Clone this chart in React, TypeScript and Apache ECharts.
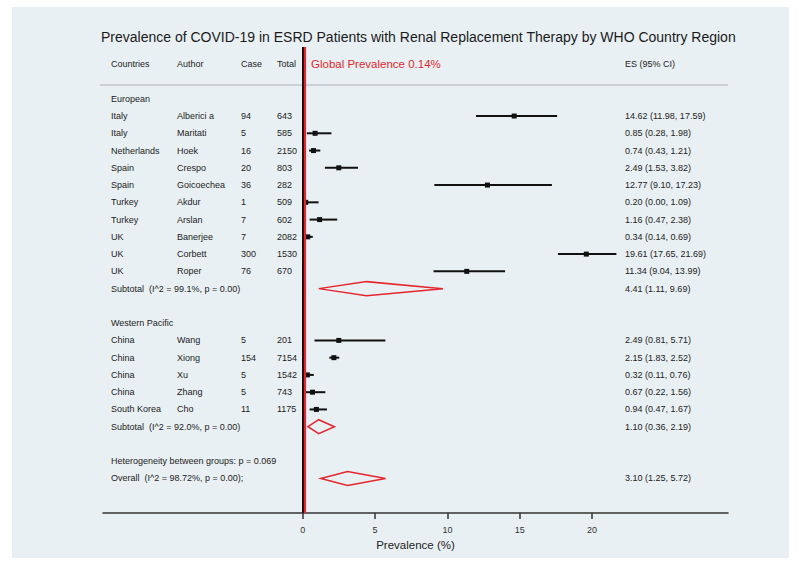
import React, { useEffect, useRef } from "react";
import * as echarts from "echarts";

// ---------- data ----------
const countries = ["Italy", "Italy", "Netherlands", "Spain", "Spain", "Turkey", "Turkey", "UK", "UK", "UK", "China", "China", "China", "China", "South Korea"];
const authors = ["Alberici a", "Maritati", "Hoek", "Crespo", "Goicoechea", "Akdur", "Arslan", "Banerjee", "Corbett", "Roper", "Wang", "Xiong", "Xu", "Zhang", "Cho"];
const cases = [94, 5, 16, 20, 36, 1, 7, 7, 300, 76, 5, 154, 5, 5, 11];
const totals = [643, 585, 2150, 803, 282, 509, 602, 2082, 1530, 670, 201, 7154, 1542, 743, 1175];
const es = [14.62, 0.85, 0.74, 2.49, 12.77, 0.2, 1.16, 0.34, 19.61, 11.34, 2.49, 2.15, 0.32, 0.67, 0.94];
const ciLow = [11.98, 0.28, 0.43, 1.53, 9.1, 0.0, 0.47, 0.14, 17.65, 9.04, 0.81, 1.83, 0.11, 0.22, 0.47];
const ciHigh = [17.59, 1.98, 1.21, 3.82, 17.23, 1.09, 2.38, 0.69, 21.69, 13.99, 5.71, 2.52, 0.76, 1.56, 1.67];
const studyRows = [1, 2, 3, 4, 5, 6, 7, 8, 9, 10, 14, 15, 16, 17, 18];

const groupLabels = ["European", "Western Pacific"];
const groupRows = [0, 13];

const summaryLabels = ["Subtotal  (I^2 = 99.1%, p = 0.00)", "Subtotal  (I^2 = 92.0%, p = 0.00)", "Overall  (I^2 = 98.72%, p = 0.00);"];
const summaryEs = [4.41, 1.1, 3.1];
const summaryLow = [1.11, 0.36, 1.25];
const summaryHigh = [9.69, 2.19, 5.72];
const summaryRows = [11, 19, 22];

const heterogeneityText = "Heterogeneity between groups: p = 0.069";
const heterogeneityRow = 21;

const headerLabels = ["Countries", "Author", "Case", "Total", "ES (95% CI)"];
const headerRow = -2;
const globalPrevalence = 0.14;
const globalLabel = "Global Prevalence 0.14%";

const xTicks = [0, 5, 10, 15, 20];
const titleText = "Prevalence of COVID-19 in ESRD Patients with Renal Replacement Therapy by WHO Country Region";
const xAxisName = "Prevalence (%)";

// ---------- layout ----------
const FONT = "'Liberation Sans', Arial, Helvetica, sans-serif";
const COL = { country: 111, author: 177, cases: 241, total: 277, es: 625, global: 311 };
const TEXT_COLOR = "#222";
const RED = "#e3262d";

const fmt = (v: number) => v.toFixed(2);

type TextItem = { row: number; x: number; text: string; color?: string; size?: number };

function buildTextItems(): TextItem[] {
  const items: TextItem[] = [];
  const headerX = [COL.country, COL.author, COL.cases, COL.total, COL.es];
  headerLabels.forEach((h, i) => items.push({ row: headerRow, x: headerX[i], text: h }));
  items.push({ row: headerRow, x: COL.global, text: globalLabel, color: RED, size: 11.5 });
  groupLabels.forEach((g, i) => items.push({ row: groupRows[i], x: COL.country, text: g }));
  studyRows.forEach((r, i) => {
    items.push({ row: r, x: COL.country, text: countries[i] });
    items.push({ row: r, x: COL.author, text: authors[i] });
    items.push({ row: r, x: COL.cases, text: String(cases[i]) });
    items.push({ row: r, x: COL.total, text: String(totals[i]) });
    items.push({ row: r, x: COL.es, text: `${fmt(es[i])} (${fmt(ciLow[i])}, ${fmt(ciHigh[i])})` });
  });
  summaryRows.forEach((r, i) => {
    items.push({ row: r, x: COL.country, text: summaryLabels[i] });
    items.push({ row: r, x: COL.es, text: `${fmt(summaryEs[i])} (${fmt(summaryLow[i])}, ${fmt(summaryHigh[i])})` });
  });
  items.push({ row: heterogeneityRow, x: COL.country, text: heterogeneityText });
  return items;
}

export default function App() {
  const ref = useRef<HTMLDivElement>(null);

  useEffect(() => {
    if (!ref.current) return;
    const chart = echarts.init(ref.current, undefined, { renderer: "svg" });
    const textItems = buildTextItems();

    const option: any = {
      animation: false,
      backgroundColor: "#ffffff",
      title: {
        text: titleText,
        left: 96,
        top: 25,
        textStyle: { fontFamily: FONT, fontSize: 14, fontWeight: "normal", color: "#1a1a1a" },
      },
      graphic: [
        {
          type: "rect",
          z: -10,
          shape: { x: 12, y: 7, width: 777, height: 551 },
          style: { fill: "#e9f0f3" },
          silent: true,
        },
        {
          type: "line",
          shape: { x1: 100, y1: 85, x2: 728, y2: 85 },
          style: { stroke: "#c2c6c8", lineWidth: 1.5 },
          silent: true,
        },
      ],
      grid: { left: 103, right: 73, top: 47, bottom: 52, containLabel: false, outerBoundsMode: "none" },
      xAxis: {
        type: "value",
        min: -13.82,
        max: 29.41,
        splitLine: { show: false },
        axisLine: { show: true, onZero: false, lineStyle: { color: "#333", width: 1.5 } },
        axisTick: { show: true, customValues: xTicks, length: 6, lineStyle: { color: "#333", width: 1.5 } },
        axisLabel: { customValues: xTicks, fontFamily: FONT, fontSize: 9, color: "#333", margin: 12 },
        name: xAxisName,
        nameLocation: "middle",
        nameGap: 22,
        nameTextStyle: { fontFamily: FONT, fontSize: 11.5, color: "#222" },
      },
      yAxis: { type: "value", inverse: true, min: -3, max: 24, show: false },
      series: [
        {
          type: "line",
          data: [],
          silent: true,
          markLine: {
            silent: true,
            symbol: "none",
            label: { show: false },
            data: [
              [{ coord: [0, -3], lineStyle: { color: "#111", width: 2, type: "solid" } }, { coord: [0, 24] }],
              [{ coord: [globalPrevalence, -3], lineStyle: { color: RED, width: 2.2, type: "solid" } }, { coord: [globalPrevalence, 24] }],
            ],
          },
        },
        {
          type: "custom",
          silent: true,
          data: studyRows.map((r, i) => [ciLow[i], ciHigh[i], es[i], r]),
          encode: { x: [0, 1, 2], y: 3 },
          renderItem: (params: any, api: any) => {
            const lo = api.coord([api.value(0), api.value(3)]);
            const hi = api.coord([api.value(1), api.value(3)]);
            const c = api.coord([api.value(2), api.value(3)]);
            const s = 5;
            return {
              type: "group",
              children: [
                { type: "line", shape: { x1: lo[0], y1: lo[1], x2: hi[0], y2: hi[1] }, style: { stroke: "#111", lineWidth: 2 } },
                { type: "rect", shape: { x: c[0] - s / 2, y: c[1] - s / 2, width: s, height: s }, style: { fill: "#111" } },
              ],
            };
          },
        },
        {
          type: "custom",
          silent: true,
          data: summaryRows.map((r, i) => [summaryLow[i], summaryHigh[i], summaryEs[i], r]),
          encode: { x: [0, 1, 2], y: 3 },
          renderItem: (params: any, api: any) => {
            const lo = api.coord([api.value(0), api.value(3)]);
            const hi = api.coord([api.value(1), api.value(3)]);
            const c = api.coord([api.value(2), api.value(3)]);
            const h = 7;
            return {
              type: "polygon",
              shape: { points: [[lo[0], lo[1]], [c[0], c[1] - h], [hi[0], hi[1]], [c[0], c[1] + h]] },
              style: { fill: "none", stroke: RED, lineWidth: 1.5 },
            };
          },
        },
        {
          type: "custom",
          silent: true,
          data: textItems.map((t) => [0, t.row]),
          encode: { x: 0, y: 1 },
          renderItem: (params: any, api: any) => {
            const t = textItems[params.dataIndex];
            const p = api.coord([0, t.row]);
            return {
              type: "text",
              x: t.x,
              y: p[1],
              style: {
                text: t.text,
                fill: t.color || TEXT_COLOR,
                fontSize: t.size || 9,
                fontFamily: FONT,
                align: "left",
                verticalAlign: "middle",
              },
            };
          },
        },
      ],
    };

    chart.setOption(option);
    return () => chart.dispose();
  }, []);

  return (
    <div style={{ position: "fixed", left: 0, top: 0, width: 801, height: 565, background: "#fff" }}>
      <div ref={ref} style={{ width: 801, height: 565 }} />
    </div>
  );
}
